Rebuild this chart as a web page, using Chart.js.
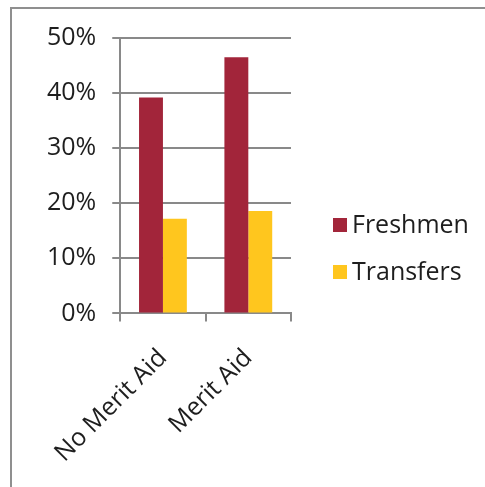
<!DOCTYPE html>
<html>
<head>
<meta charset="utf-8">
<script src="https://cdn.jsdelivr.net/npm/chart.js@4.4.0/dist/chart.umd.min.js"></script>
<style>
    html, body { margin: 0; padding: 0; background: #fff; }
    #wrap { position: relative; width: 485px; height: 487px; overflow: hidden; }
    #frame {
        position: absolute; left: 10px; top: 7px; width: 600px; height: 600px;
        border-left: 2px solid #8f8f8f; border-top: 2px solid #8f8f8f;
    }
    #chart { position: absolute; left: 0; top: 0; }
</style>
</head>
<body>
<div id="wrap">
    <div id="frame"></div>
    <canvas id="chart" width="485" height="495"></canvas>
</div>
<script>
// Chart data
const categories = ['No Merit Aid', 'Merit Aid'];
const freshmen = [39.2, 46.5];
const transfers = [17.2, 18.6];
const yMin = 0;
const yMax = 50;
const yStep = 10;

const fontFamily = '"Open Sans", "Noto Sans", sans-serif';
const fontSize = 25;
const gridGray = '#898989';
const textColor = '#1e1e1e';

// The built-in legend gets squeezed next to the y axis, so draw it by hand
const sideLegend = {
    id: 'sideLegend',
    afterDraw(chart) {
        const ctx = chart.ctx;
        const area = chart.chartArea;
        const x = area.right + 42;
        const y0 = 225;
        ctx.save();
        ctx.font = fontSize + 'px ' + fontFamily;
        ctx.textBaseline = 'middle';
        chart.data.datasets.forEach((ds, i) => {
            const y = y0 + i * 47;
            ctx.fillStyle = ds.backgroundColor;
            ctx.fillRect(x, y - 7, 14, 14);
            ctx.fillStyle = textColor;
            ctx.fillText(ds.label, x + 19, y + 1);
        });
        ctx.restore();
    }
};

document.addEventListener('DOMContentLoaded', () => {
    const ctx = document.getElementById('chart').getContext('2d');
    new Chart(ctx, {
        type: 'bar',
        data: {
            labels: categories,
            datasets: [
                { label: 'Freshmen', data: freshmen, backgroundColor: '#A2253A' },
                { label: 'Transfers', data: transfers, backgroundColor: '#FFC61E' }
            ]
        },
        options: {
            responsive: false,
            animation: false,
            categoryPercentage: 0.56,
            barPercentage: 1.0,
            layout: { padding: { left: 31, top: 38, right: 194, bottom: 5 } },
            scales: {
                x: {
                    grid: { drawOnChartArea: false, color: gridGray, lineWidth: 2, tickLength: 8 },
                    border: { color: gridGray, width: 2 },
                    ticks: {
                        color: textColor, minRotation: 45, maxRotation: 45, padding: 22,
                        font: { family: fontFamily, size: fontSize }
                    }
                },
                y: {
                    min: yMin, max: yMax,
                    grid: { color: gridGray, lineWidth: 2, tickLength: 8 },
                    border: { color: gridGray, width: 2 },
                    ticks: {
                        stepSize: yStep, color: textColor, padding: 16,
                        font: { family: fontFamily, size: fontSize },
                        callback: v => v + '%'
                    }
                }
            },
            plugins: {
                legend: { display: false },
                tooltip: { enabled: false }
            }
        },
        plugins: [sideLegend]
    });
});
</script>
</body>
</html>
